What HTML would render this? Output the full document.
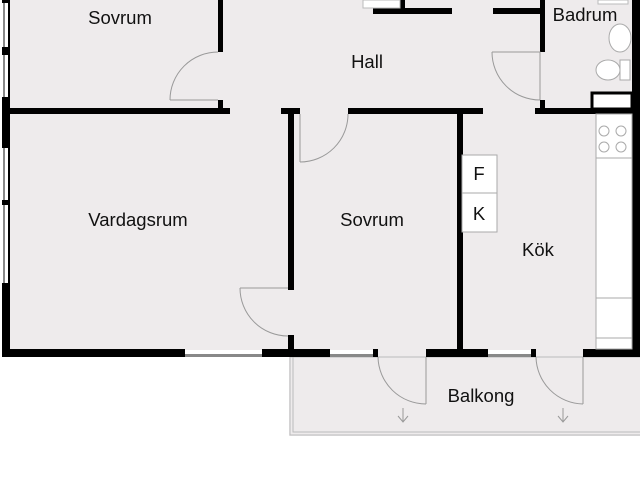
<!DOCTYPE html>
<html><head><style>html,body{margin:0;padding:0;background:#fff}svg{display:block}text{font-family:"Liberation Sans",sans-serif;font-size:18.5px;fill:#111;text-anchor:middle}</style></head><body>
<svg width="640" height="480" viewBox="0 0 640 480">
<rect x="2" y="0" width="638" height="357" fill="#eeebec"/>
<rect x="289" y="357" width="351" height="79" fill="#eeebec"/>
<rect x="290" y="357" width="352" height="78" fill="none" stroke="#bbb" stroke-width="1"/>
<rect x="293" y="357" width="350" height="75" fill="none" stroke="#bbb" stroke-width="1"/>
<g fill="#000">
<rect x="2" y="0" width="8" height="357"/>
<rect x="2" y="108" width="228" height="6"/>
<rect x="218" y="0" width="5" height="52"/>
<rect x="218" y="100" width="5" height="10"/>
<rect x="281" y="108" width="19" height="6"/>
<rect x="288" y="108" width="6" height="182"/>
<rect x="288" y="335" width="6" height="22"/>
<rect x="348" y="108" width="135" height="6"/>
<rect x="457" y="108" width="6" height="249"/>
<rect x="373" y="8" width="79" height="6"/>
<rect x="400" y="0" width="5" height="14"/>
<rect x="493" y="8" width="50" height="6"/>
<rect x="540" y="0" width="5" height="52"/>
<rect x="540" y="100" width="5" height="12"/>
<rect x="535" y="108" width="105" height="6"/>
<rect x="632" y="0" width="8" height="357"/>
<rect x="2" y="349" width="183" height="8"/>
<rect x="262" y="349" width="68" height="8"/>
<rect x="373" y="349" width="5" height="8"/>
<rect x="426" y="349" width="62" height="8"/>
<rect x="531" y="349" width="5" height="8"/>
<rect x="583" y="349" width="57" height="8"/>
</g>
<g fill="#fff">
<rect x="2" y="3" width="6" height="44"/><rect x="2" y="55" width="6" height="42"/>
<rect x="2" y="148" width="6" height="52"/><rect x="2" y="205" width="6" height="78"/>
<rect x="185" y="350" width="77" height="6"/><rect x="330" y="350" width="43" height="6"/><rect x="488" y="350" width="43" height="6"/>
</g>
<g fill="#888">
<rect x="3" y="3" width="2" height="44"/><rect x="3" y="55" width="2" height="42"/>
<rect x="3" y="148" width="2" height="52"/><rect x="3" y="205" width="2" height="78"/>
<rect x="185" y="354" width="77" height="3"/><rect x="330" y="354" width="43" height="3"/><rect x="488" y="354" width="43" height="3"/>
</g>
<rect x="363" y="0" width="37" height="8" fill="#fff" stroke="#bbb"/>
<rect x="598" y="0" width="30" height="4" fill="#fff" stroke="#bbb"/>
<g fill="none" stroke="#999" stroke-width="1">
<path d="M170 100 L218 100 M218 52 A48 48 0 0 0 170 100"/>
<path d="M240 288 L288 288 M240 288 A48 48 0 0 0 288 336"/>
<path d="M300 114 L300 162 M348 114 A48 48 0 0 1 300 162"/>
<path d="M492 52 L540 52 L540 100 M492 52 A48 48 0 0 0 540 100"/>
<path d="M426 357 L426 404 M378 357 A48 48 0 0 0 426 404"/>
<path d="M583 357 L583 404 M536 357 A48 48 0 0 0 583 404"/>
<path d="M403 408 L403 422 M398 416 L403 422 L408 416"/>
<path d="M563 408 L563 422 M558 416 L563 422 L568 416"/>
</g>
<rect x="592" y="93" width="40" height="16" fill="#fff" stroke="#000" stroke-width="3"/>
<g fill="#fff" stroke="#aaa">
<rect x="596" y="114" width="36" height="235"/>
<rect x="462" y="155" width="35" height="38"/><rect x="462" y="193" width="35" height="39"/>
<ellipse cx="620" cy="38" rx="11" ry="14"/>
<ellipse cx="608" cy="70" rx="12" ry="10"/>
<rect x="620" y="60" width="10" height="20"/>
</g>
<g fill="none" stroke="#aaa">
<line x1="596" y1="158" x2="632" y2="158"/><line x1="596" y1="298" x2="632" y2="298"/><line x1="596" y1="338" x2="632" y2="338"/>
<circle cx="604" cy="131" r="5"/><circle cx="621" cy="131" r="5"/><circle cx="604" cy="147" r="5"/><circle cx="621" cy="147" r="5"/>
</g>
<text x="120" y="24">Sovrum</text>
<text x="367" y="68">Hall</text>
<text x="585" y="21">Badrum</text>
<text x="138" y="226">Vardagsrum</text>
<text x="372" y="226">Sovrum</text>
<text x="538" y="256">Kök</text>
<text x="481" y="402">Balkong</text>
<text x="479" y="180">F</text>
<text x="479" y="220">K</text>
</svg>
</body></html>
